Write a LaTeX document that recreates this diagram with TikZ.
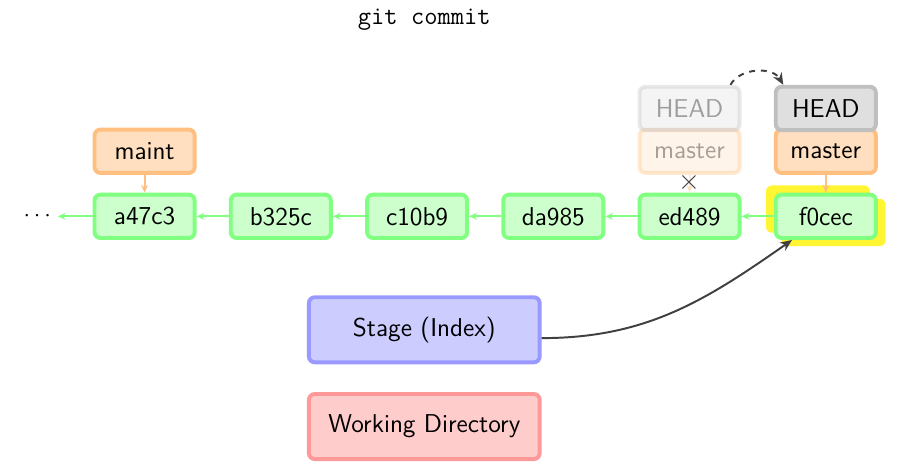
\documentclass[tikz,border=0pt]{standalone}
\usepackage{tikz}
\usetikzlibrary{arrows.meta, positioning, backgrounds}
\renewcommand{\familydefault}{\sfdefault}

\begin{document}
\begin{tikzpicture}[
  every node/.style={font=\fontsize{13.2}{15}\selectfont},
  box/.style={draw, rounded corners=3pt, line width=2pt, minimum width=1.8cm,
              minimum height=0.78cm, text centered},
  commit/.style={box, fill=green!20,  draw=green!50},
  branch/.style={box, fill=orange!25, draw=orange!50},
  head/.style={box,   fill=gray!25,   draw=gray!50},
  area/.style={box, minimum width=4.15cm, minimum height=1.17cm},
  old/.style={opacity=0.35},
  parent/.style={->, green!50, line width=1pt},
  ref/.style={->, orange!50, line width=1pt},
  move/.style={-{Stealth[length=6pt, width=5pt]}, black!75, line width=1pt},
  >={Stealth[length=4pt, width=3.5pt]},
]
  \useasboundingbox (0,0) rectangle (16.4,8.42);

  \node[font=\ttfamily\fontsize{13.2}{15}\selectfont] (title) at (7.63,8.06) {git commit};

  % commits
  \node (dots) at (0.67,4.53) {$\cdots$};
  \node[commit] (a47c3) at (2.6,4.53)  {a47c3};
  \node[commit] (b325c) at (5.05,4.53) {b325c};
  \node[commit] (c10b9) at (7.5,4.53)  {c10b9};
  \node[commit] (da985) at (9.95,4.53) {da985};
  \node[commit] (ed489) at (12.4,4.53) {ed489};
  \node[commit] (f0cec) at (14.85,4.53) {f0cec};

  \begin{scope}[on background layer]
    \fill[yellow!80, rounded corners=3pt]
      ([shift={(-0.14,0.13)}]f0cec.south west) rectangle ([shift={(-0.14,0.13)}]f0cec.north east);
    \fill[yellow!80, rounded corners=3pt]
      ([shift={(0.14,-0.11)}]f0cec.south west) rectangle ([shift={(0.14,-0.11)}]f0cec.north east);
  \end{scope}

  \draw[parent] (a47c3) -- (dots);
  \draw[parent] (b325c) -- (a47c3);
  \draw[parent] (c10b9) -- (b325c);
  \draw[parent] (da985) -- (c10b9);
  \draw[parent] (ed489) -- (da985);
  \draw[parent] (f0cec) -- (ed489);

  % branches
  \node[branch] (maint) at (2.6,5.70) {maint};
  \draw[ref] (maint) -- (a47c3);

  \node[branch, old] (oldmaster) at (12.4,5.70) {master};
  \node[head, old]   (oldhead)   at (12.4,6.47) {HEAD};
  \draw[ref, old] (oldmaster) -- (ed489);
  \node[text=black!75, font=\Large] (cross) at (12.4,5.13) {$\times$};

  \node[branch] (master) at (14.85,5.70) {master};
  \node[head]   (head)   at (14.85,6.47) {HEAD};
  \draw[ref] (master) -- (f0cec);

  \draw[move, dashed]
    ([xshift=-0.2cm]oldhead.north east) to[out=60, in=120] ([xshift=0.17cm]head.north west);

  % areas
  \node[area, fill=blue!20, draw=blue!40] (stage)   at (7.63,2.49) {Stage (Index)};
  \node[area, fill=red!20,  draw=red!40]  (workdir) at (7.63,0.75) {Working Directory};

  \draw[move] ([yshift=-0.15cm]stage.east) to[out=0, in=-145] (f0cec);
\end{tikzpicture}
\end{document}
